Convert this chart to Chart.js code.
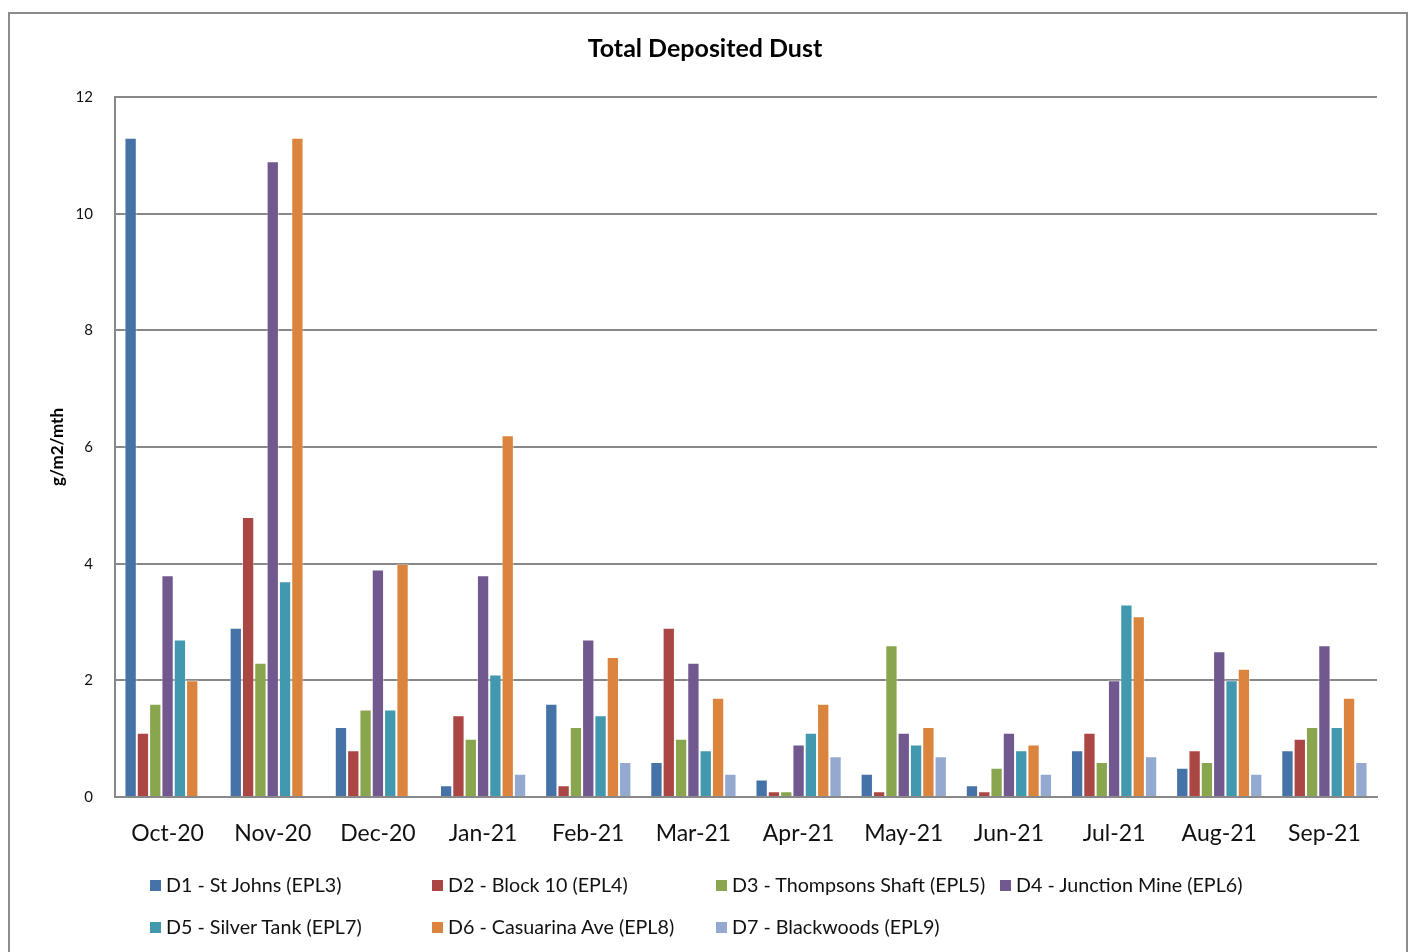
<!DOCTYPE html>
<html>
<head>
<meta charset="utf-8">
<script src="https://cdn.jsdelivr.net/npm/chart.js@4"></script>
<style>
  body { margin: 0; background: #fff; font-family: Lato, "Open Sans", sans-serif; }
  #frame { position: absolute; left: 8px; top: 12px; width: 1396px; height: 960px; border: 2px solid #8c8c8c; border-bottom: none; }
  #wrap { position: absolute; left: 0; top: 0; width: 1410px; height: 860px; }
  #legend { position: absolute; left: 0; top: 0; width: 1410px; height: 952px; pointer-events: none; }
  .item { position: absolute; font-size: 19.7px; color: #111; white-space: nowrap; line-height: 22px; }
  .item i { display: inline-block; width: 11px; height: 11px; margin-right: 5px; vertical-align: 1px; }
</style>
</head>
<body>
<div id="frame"></div>
<div id="wrap"><canvas id="chart"></canvas></div>
<div id="legend"></div>
<script>
// -------------------------
// Data
// -------------------------
const months = ["Oct-20", "Nov-20", "Dec-20", "Jan-21", "Feb-21", "Mar-21",
                "Apr-21", "May-21", "Jun-21", "Jul-21", "Aug-21", "Sep-21"];

const seriesNames = ["D1 - St Johns (EPL3)", "D2 - Block 10 (EPL4)", "D3 - Thompsons Shaft (EPL5)",
                     "D4 - Junction Mine (EPL6)", "D5 - Silver Tank (EPL7)", "D6 - Casuarina Ave (EPL8)",
                     "D7 - Blackwoods (EPL9)"];

const d1 = [11.3, 2.9, 1.2, 0.2, 1.6, 0.6, 0.3, 0.4, 0.2, 0.8, 0.5, 0.8];
const d2 = [1.1, 4.8, 0.8, 1.4, 0.2, 2.9, 0.1, 0.1, 0.1, 1.1, 0.8, 1.0];
const d3 = [1.6, 2.3, 1.5, 1.0, 1.2, 1.0, 0.1, 2.6, 0.5, 0.6, 0.6, 1.2];
const d4 = [3.8, 10.9, 3.9, 3.8, 2.7, 2.3, 0.9, 1.1, 1.1, 2.0, 2.5, 2.6];
const d5 = [2.7, 3.7, 1.5, 2.1, 1.4, 0.8, 1.1, 0.9, 0.8, 3.3, 2.0, 1.2];
const d6 = [2.0, 11.3, 4.0, 6.2, 2.4, 1.7, 1.6, 1.2, 0.9, 3.1, 2.2, 1.7];
const d7 = [null, null, null, 0.4, 0.6, 0.4, 0.7, 0.7, 0.4, 0.7, 0.4, 0.6];

const yTicks = [0, 2, 4, 6, 8, 10, 12];

const colors = ["#4572A7", "#AA4643", "#89A54E", "#71588F", "#4198AF", "#DB843D", "#93A9CF"];
const values = [d1, d2, d3, d4, d5, d6, d7];

// -------------------------
// Chart
// -------------------------
const datasets = values.map((v, i) => ({
  label: seriesNames[i],
  data: v,
  backgroundColor: colors[i],
  borderColor: "rgba(255,255,255,0.45)",
  borderWidth: 1,
  categoryPercentage: 0.82,
  barPercentage: 1.0
}));

const ctx = document.getElementById("chart").getContext("2d");
new Chart(ctx, {
  type: "bar",
  data: { labels: months, datasets },
  options: {
    responsive: true,
    maintainAspectRatio: false,
    animation: false,
    layout: { padding: 0 },
    plugins: {
      legend: { display: false },
      tooltip: { enabled: false },
      title: {
        display: true,
        text: "Total Deposited Dust",
        color: "#000",
        font: { family: "Lato", size: 25, weight: "bold" },
        padding: { top: 34, bottom: 33 }
      }
    },
    scales: {
      x: {
        grid: { display: false, drawTicks: false },
        border: { color: "#888", width: 2 },
        ticks: { color: "#111", font: { family: "Lato", size: 23 }, padding: 23, maxRotation: 0 },
        afterFit: s => { s.height = 63; }
      },
      y: {
        min: 0, max: 12,
        afterBuildTicks: s => { s.ticks = yTicks.map(v => ({ value: v })); },
        grid: { color: "#888", lineWidth: 2, drawTicks: false },
        border: { color: "#888", width: 2 },
        ticks: { color: "#111", font: { family: "Lato", size: 15 }, padding: 22 },
        title: {
          display: true,
          text: "g/m2/mth",
          color: "#000",
          font: { family: "Lato", size: 17, weight: "bold" },
          padding: { top: 47, bottom: 0 }
        },
        afterFit: s => { s.width = 115; }
      },
      // empty right-hand spacer so the title stays centred on the whole page
      yRight: {
        position: "right",
        min: 0, max: 12,
        grid: { display: false, drawTicks: false },
        border: { display: false },
        ticks: { display: false },
        afterFit: s => { s.width = 33; }
      }
    }
  }
});

// -------------------------
// Legend (two rows, fixed columns)
// -------------------------
const legendCols = [150, 432, 716, 1000];
const legendRows = [874, 916];
const legend = document.getElementById("legend");
seriesNames.forEach((name, i) => {
  const el = document.createElement("div");
  el.className = "item";
  el.style.left = legendCols[i % 4] + "px";
  el.style.top = legendRows[Math.floor(i / 4)] + "px";
  el.innerHTML = `<i style="background:${colors[i]}"></i>${name}`;
  legend.appendChild(el);
});
</script>
</body>
</html>
